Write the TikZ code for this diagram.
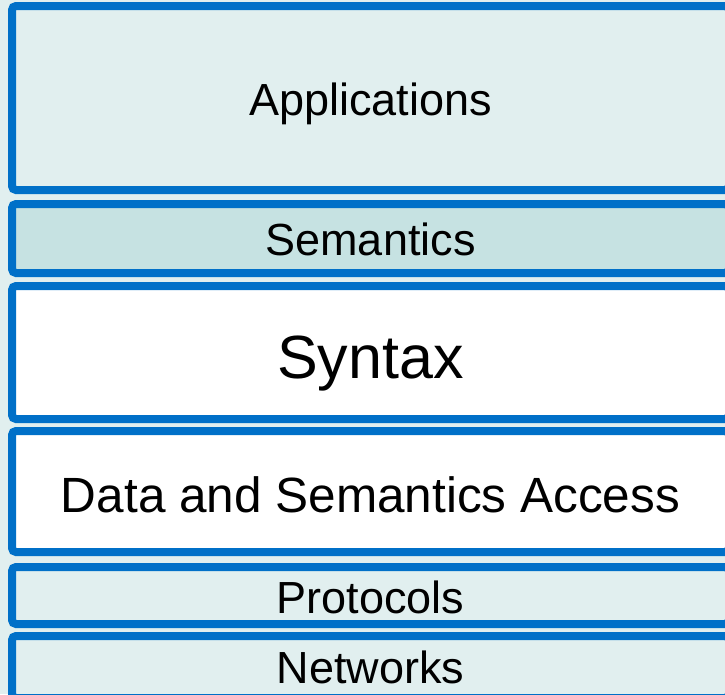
\documentclass[tikz,border=0pt]{standalone}
\usepackage{fontspec}
\setmainfont{Liberation Sans}
\definecolor{layerblue}{RGB}{0,112,200}
\definecolor{paper}{RGB}{225,239,239}
\definecolor{semfill}{RGB}{198,226,226}
\tikzset{
  layer/.style={draw=layerblue, line width=8pt, rounded corners=4pt,
    minimum width=717pt, inner sep=0pt, anchor=center},
  plainlayer/.style={layer, fill=paper},
  semlayer/.style={layer, fill=semfill},
  whitelayer/.style={layer, fill=white},
  caption/.style={anchor=base, inner sep=0pt, text=black},
  smalltext/.style={caption, font=\fontsize{45}{54}\selectfont},
}
\begin{document}
\begin{tikzpicture}[x=1pt, y=-1pt]
  \fill[paper] (0,0) rectangle (725,694);
  \useasboundingbox (0,0) rectangle (725,694);
  \begin{scope}
    \clip (0,0) rectangle (725,694);
    % layer boxes
    \node[plainlayer, minimum height=184pt] (apps) at (370.5,98) {};
    \node[semlayer, minimum height=69pt] (sem) at (370.5,238.5) {};
    \node[whitelayer, minimum height=133pt] (syn) at (370.5,352.5) {};
    \node[whitelayer, minimum height=121pt] (data) at (370.5,491.5) {};
    \node[plainlayer, minimum height=57pt] (proto) at (370.5,595.5) {};
    \node[plainlayer, minimum height=62pt] (net) at (370.5,667) {};
  \end{scope}
  % layer names, placed on their baselines
  \node[smalltext] (appsT) at (370.5,115) {Applications};
  \node[smalltext] (semT) at (370.5,255.5) {Semantics};
  \node[caption, font=\fontsize{61}{72}\selectfont] (synT) at (370.5,378) {Syntax};
  \node[caption, font=\fontsize{49.5}{60}\selectfont] (dataT) at (370.5,512) {Data and Semantics Access};
  \node[smalltext] (protoT) at (370.5,613) {Protocols};
  \node[smalltext] (netT) at (370.5,683) {Networks};
\end{tikzpicture}
\end{document}
